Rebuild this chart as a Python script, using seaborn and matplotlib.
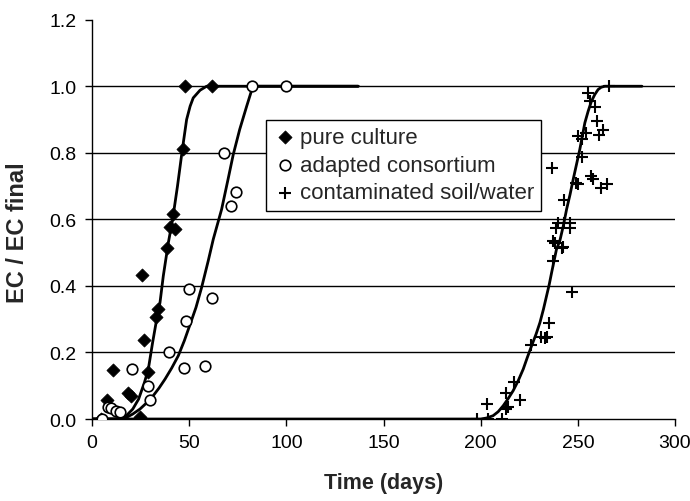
import matplotlib
matplotlib.use("Agg")
import matplotlib.pyplot as plt
import seaborn as sns
import pandas as pd

# ---------------- data ----------------
pure_t = [4.8, 7.9, 10.6, 18.5, 20.2, 24.5, 25.6, 26.7, 28.6, 32.8, 33.8,
          38.7, 40.1, 41.5, 42.7, 46.6, 47.8, 61.6]
pure_v = [0.0, 0.058, 0.147, 0.077, 0.07, 0.006, 0.432, 0.237, 0.142, 0.308, 0.33,
          0.513, 0.577, 0.617, 0.572, 0.81, 1.0, 1.0]

adapt_t = [5.0, 8.4, 9.6, 12.2, 14.2, 20.4, 28.6, 29.8, 39.4, 47.5, 48.2,
           50.1, 58.3, 61.6, 68.1, 71.3, 73.9, 82.1, 99.8]
adapt_v = [0.0, 0.035, 0.033, 0.025, 0.02, 0.15, 0.098, 0.058, 0.2, 0.152, 0.295,
           0.392, 0.159, 0.365, 0.8, 0.639, 0.683, 1.0, 1.0]

soil_t = [198, 204, 203, 211, 213, 214, 213, 220, 217, 226, 231, 233, 234, 235,
          236.5, 237, 237, 238, 239, 240, 242, 242.5, 243, 243, 246, 246, 247, 249,
          250, 250, 252, 252, 254, 255, 256, 257, 258, 259, 260, 261, 262, 263,
          265, 266]
soil_v = [0.0, 0.0, 0.045, 0.0, 0.03, 0.035, 0.078, 0.057, 0.112, 0.222, 0.246,
          0.242, 0.247, 0.29, 0.755, 0.475, 0.535, 0.53, 0.575, 0.59, 0.515, 0.518,
          0.59, 0.658, 0.575, 0.588, 0.382, 0.71, 0.705, 0.85, 0.84, 0.787, 0.86,
          0.98, 0.955, 0.73, 0.72, 0.938, 0.895, 0.853, 0.695, 0.87, 0.705, 1.0]

# fitted curves
fit_pure_t = [0, 12, 15, 18, 21, 24, 27, 29, 31.2, 33, 35, 36.7, 39.3, 41.5, 44,
              46.5, 48.7, 50.5, 52.1, 55.6, 59, 137]
fit_pure_v = [0, 0, 0.003, 0.012, 0.03, 0.06, 0.11, 0.15, 0.23, 0.29, 0.35, 0.43,
              0.53, 0.6, 0.7, 0.81, 0.9, 0.94, 0.965, 0.988, 1.0, 1.0]

fit_adapt_t = [0, 15, 17.8, 21, 24.7, 28, 31.5, 34.5, 37.6, 41, 44.4, 47.5, 50.4,
               53.5, 56.4, 59.8, 62.4, 66.7, 70, 72.7, 76, 79.6, 82, 84, 137]
fit_adapt_v = [0, 0, 0.005, 0.015, 0.03, 0.048, 0.07, 0.093, 0.12, 0.153, 0.19,
               0.235, 0.283, 0.335, 0.395, 0.475, 0.54, 0.63, 0.72, 0.795, 0.87,
               0.94, 0.985, 1.0, 1.0]

fit_soil_t = [0, 200, 203, 206.4, 209, 211.6, 214, 216.7, 219.3, 221.9, 224, 226.2,
              228.5, 230.5, 232.3, 233.9, 235.3, 236.5, 239, 240.7, 242.5, 244.2,
              246, 247.6, 249.3, 251, 252.3, 253.6, 255.3, 257, 258.7, 260.4, 262,
              263.9, 283]
fit_soil_v = [0, 0, 0.003, 0.01, 0.022, 0.04, 0.06, 0.085, 0.115, 0.15, 0.185, 0.22,
              0.255, 0.29, 0.33, 0.37, 0.405, 0.44, 0.51, 0.535, 0.58, 0.63, 0.675,
              0.72, 0.765, 0.81, 0.85, 0.89, 0.925, 0.955, 0.975, 0.99, 0.997, 1.0,
              1.0]

series_names = ["pure culture", "adapted consortium", "contaminated soil/water"]
x_ticks = [0, 50, 100, 150, 200, 250, 300]
y_ticks = [0.0, 0.2, 0.4, 0.6, 0.8, 1.0, 1.2]

# ---------------- build tables ----------------
pts = pd.concat([
    pd.DataFrame({"t": pure_t, "v": pure_v, "s": series_names[0]}),
    pd.DataFrame({"t": adapt_t, "v": adapt_v, "s": series_names[1]}),
    pd.DataFrame({"t": soil_t, "v": soil_v, "s": series_names[2]}),
], ignore_index=True)

fits = pd.concat([
    pd.DataFrame({"t": fit_pure_t, "v": fit_pure_v, "f": "a"}),
    pd.DataFrame({"t": fit_adapt_t, "v": fit_adapt_v, "f": "b"}),
    pd.DataFrame({"t": fit_soil_t, "v": fit_soil_v, "f": "c"}),
], ignore_index=True)

sns.set_theme(style="white")
plt.rcParams["font.family"] = ["Liberation Sans", "DejaVu Sans"]

fig = plt.figure(figsize=(6.9, 5.02), dpi=100)
ax = fig.add_axes([0.1333, 0.1633, 0.8450, 0.7955])

# gridlines
for yv in y_ticks[1:-1]:
    ax.axhline(yv, color="black", lw=1.0, zorder=1)

# fitted curves
sns.lineplot(data=fits, x="t", y="v", units="f", estimator=None, sort=False,
             color="black", lw=2.0, ax=ax, zorder=3, legend=False)

# scatter points
sns.scatterplot(data=pts[pts.s == series_names[0]], x="t", y="v", marker="D",
                s=45, color="black", edgecolor="black", linewidth=0.5, ax=ax,
                zorder=4, label=series_names[0])
sns.scatterplot(data=pts[pts.s == series_names[1]], x="t", y="v", marker="o",
                s=58, facecolor="white", edgecolor="black", linewidth=1.2, ax=ax,
                zorder=4, label=series_names[1])
sns.scatterplot(data=pts[pts.s == series_names[2]], x="t", y="v", marker="+",
                s=85, color="black", linewidth=1.5, ax=ax, zorder=4,
                label=series_names[2])

ax.set_xlim(0, 300)
ax.set_ylim(0, 1.2)
ax.set_xticks(x_ticks)
ax.set_yticks(y_ticks)
ax.set_yticklabels([f"{v:.1f}" for v in y_ticks])
ax.set_xticklabels([str(v) for v in x_ticks])
ax.tick_params(axis="both", direction="out", length=5, width=1.0, color="black",
               labelsize=14, labelcolor="black", pad=6, bottom=True, left=True)
for side in ["top", "right"]:
    ax.spines[side].set_visible(False)
for side in ["left", "bottom"]:
    ax.spines[side].set_color("black")
    ax.spines[side].set_linewidth(1.0)
ax.set_xlabel("Time (days)", fontsize=15.5, fontweight="bold", labelpad=15)
ax.set_ylabel("EC / EC final", fontsize=17, fontweight="bold")
ax.yaxis.set_label_coords(-0.108, 0.47)
ax.grid(False)

leg = ax.legend(loc="upper left", bbox_to_anchor=(0.2985, 0.7488), fontsize=16,
                frameon=True, fancybox=False, edgecolor="black", framealpha=1,
                handletextpad=0.1, borderpad=0.32, labelspacing=0.3,
                handlelength=1.1, borderaxespad=0)
leg.get_frame().set_linewidth(1.0)

fig.savefig("out.png", dpi=100)
